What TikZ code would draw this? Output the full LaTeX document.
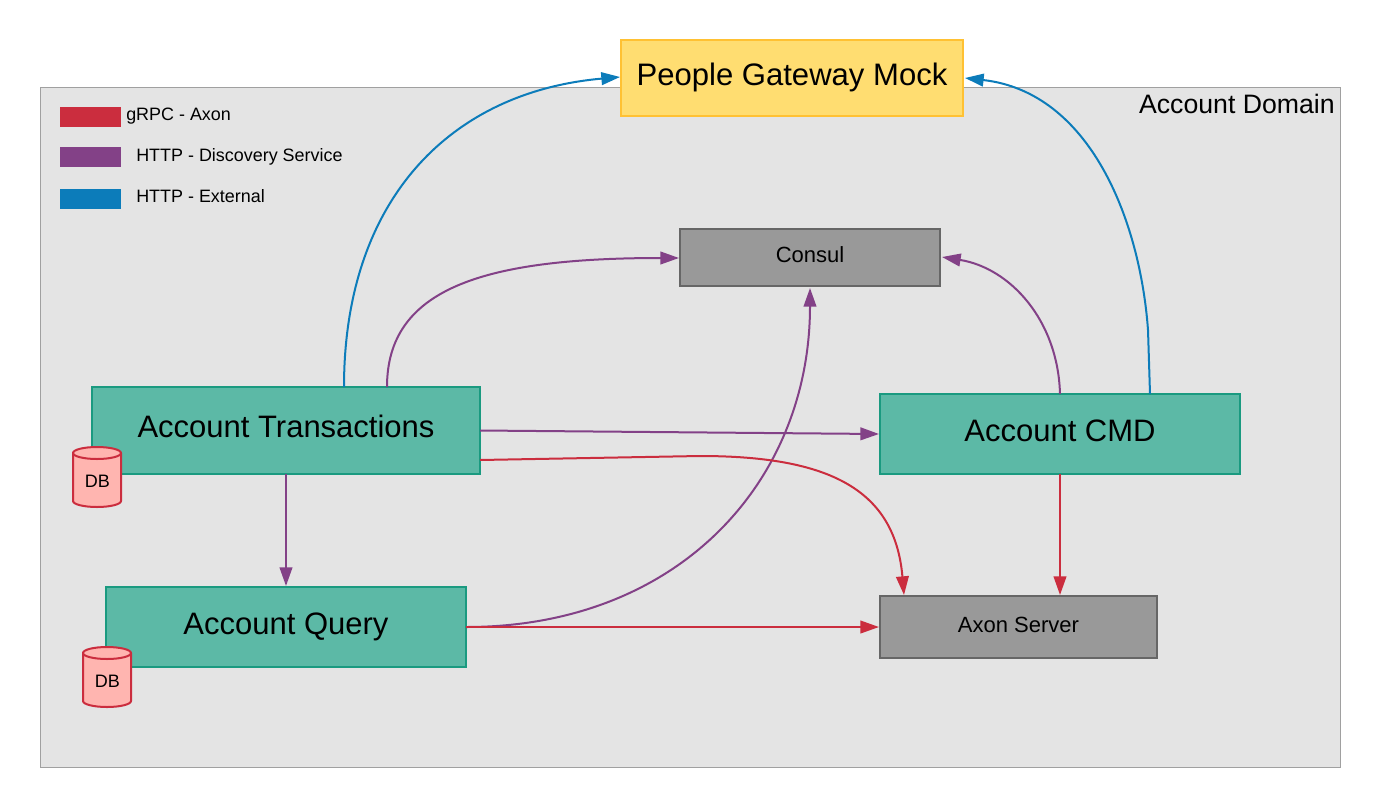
\documentclass[tikz,border=0pt]{standalone}
\usepackage{fontspec}
\setmainfont{Liberation Sans}
\usetikzlibrary{arrows.meta,calc}
\definecolor{grn}{HTML}{5CB9A6}\definecolor{grnd}{HTML}{1A9A80}
\definecolor{rd}{HTML}{CB2D3E}\definecolor{pnk}{HTML}{FFB5B0}
\definecolor{prp}{HTML}{834187}\definecolor{blu}{HTML}{0C7CBA}
\definecolor{gry}{HTML}{999999}\definecolor{gryd}{HTML}{666666}
\definecolor{yel}{HTML}{FFDD71}\definecolor{yeld}{HTML}{FFC133}
\definecolor{dom}{HTML}{E4E4E4}\definecolor{domd}{HTML}{A0A0A0}
\def\px{0.75pt}
\tikzset{
  x=0.75pt,y=-0.75pt,
  boxbase/.style={draw,line width=1.5pt,inner sep=0pt,outer sep=0pt,align=center,text=black},
  teal box/.style={boxbase,fill=grn,draw=grnd,font=\fontsize{23.25pt}{26pt}\selectfont,text height=15*\px,text depth=0pt},
  gray box/.style={boxbase,fill=gry,draw=gryd,font=\fontsize{16.5pt}{20pt}\selectfont,text height=10*\px,text depth=0pt},
  legend swatch/.style={inner sep=0pt,outer sep=0pt,minimum width=61*\px,minimum height=20*\px},
  legend text/.style={inner sep=0pt,anchor=west,font=\fontsize{13.45pt}{16pt}\selectfont},
  conn/.style={line width=1.5pt,-{Triangle[length=14pt,width=9.5pt]}},
  db/.style={inner sep=0pt,font=\fontsize{13.5pt}{16pt}\selectfont},
  dbshape/.style={fill=pnk,draw=rd,line width=1.5pt}
}
\begin{document}
\begin{tikzpicture}
\useasboundingbox (0,0) rectangle (1380,807);
\fill[white] (0,0) rectangle (1380,807);
\node[draw=domd,fill=dom,line width=0.75pt,inner sep=0pt,outer sep=0pt,minimum width=1300*\px,minimum height=680*\px] (domain) at (690.5,427.5) {};
\node[inner sep=0pt,anchor=east,font=\fontsize{20pt}{24pt}\selectfont] (domlabel) at (1335,104) {Account Domain};
\node[legend swatch,fill=rd] (s1) at (90.5,117) {};
\node[legend swatch,fill=prp] (s2) at (90.5,157) {};
\node[legend swatch,fill=blu] (s3) at (90.5,199) {};
\node[legend text] (l1) at (126,116.5) {gRPC - Axon};
\node[legend text] (l2) at (136,156.5) {HTTP - Discovery Service};
\node[legend text] (l3) at (136,196) {HTTP - External};

\node[boxbase,fill=yel,draw=yeld,minimum width=342*\px,minimum height=76*\px,font=\fontsize{23.3pt}{28pt}\selectfont,text height=14*\px,text depth=0pt] (gw) at (792,78) {People Gateway Mock};
\node[gray box,minimum width=260*\px,minimum height=57*\px] (consul) at (810,257.5) {Consul};
\node[teal box,minimum width=388*\px,minimum height=87*\px,text height=13*\px] (at) at (286,430.5) {Account Transactions};
\node[teal box,minimum width=360*\px,minimum height=80*\px] (cmd) at (1060,434) {Account CMD};
\node[teal box,minimum width=360*\px,minimum height=80*\px] (aq) at (286,627) {Account Query};
\node[gray box,minimum width=277*\px,minimum height=62*\px] (axon) at (1018.5,627) {Axon Server};

% database cylinders
\draw[dbshape] (73,453) -- (73,501) arc[start angle=180,end angle=360,x radius=24,y radius=-6] -- (121,453) arc[start angle=0,end angle=180,x radius=24,y radius=-6] -- cycle;
\draw[dbshape] (73,453) arc[start angle=180,end angle=360,x radius=24,y radius=-6];
\node[db] (db1) at (97.5,481) {DB};
\draw[dbshape] (83,653) -- (83,701) arc[start angle=180,end angle=360,x radius=24,y radius=-6] -- (131,653) arc[start angle=0,end angle=180,x radius=24,y radius=-6] -- cycle;
\draw[dbshape] (83,653) arc[start angle=180,end angle=360,x radius=24,y radius=-6];
\node[db] (db2) at (107.5,681) {DB};

% ports
\coordinate (atA) at (344,387);
\coordinate (atB) at (387,387);
\coordinate (atR) at (480,460);
\coordinate (cmdA) at (1150,394);
\coordinate (cmdB) at (1060,394);
\coordinate (axTop) at (904,595);
\coordinate (gwL) at (620,77);
\coordinate (gwR) at (965,78);
\coordinate (coL) at (679,258);
\coordinate (coR) at (942,257);
\coordinate (coB) at (810,288);
\coordinate (axL) at (879,627);
\coordinate (cmdL) at (879,434);
\coordinate (axT2) at (1060,595);
\coordinate (aqT) at (286,586);

\draw[conn,blu] (atA) .. controls (344,200) and (450,92) .. (gwL);
\draw[conn,blu] (cmdA) -- (1148,330) .. controls (1140,220) and (1090,92) .. (gwR);
\draw[conn,prp] (atB) .. controls (387,290) and (480,258) .. (coL);
\draw[conn,prp] (cmdB) .. controls (1058,320) and (1010,268) .. (coR);
\draw[conn,prp] (aq.east) .. controls (680,627) and (810,480) .. (coB);
\draw[conn,prp] (at.east) -- (cmdL);
\draw[conn,prp] (at.south) -- (aqT);
\draw[conn,rd] (atR) -- (700,456) .. controls (830,456) and (895,490) .. (axTop);
\draw[conn,rd] (aq.east) -- (axL);
\draw[conn,rd] (cmd.south) -- (axT2);
\end{tikzpicture}
\end{document}
